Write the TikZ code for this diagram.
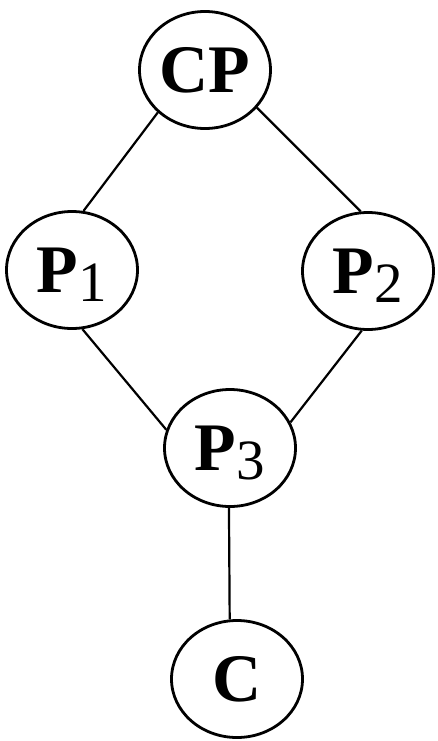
\documentclass[tikz,border=0pt]{standalone}
\usepackage{fontspec}
\setmainfont{Liberation Serif}
\usetikzlibrary{shapes.geometric}
\newcommand{\sbs}[1]{\raisebox{-9pt}{\fontsize{57}{57}\selectfont\mdseries #1}}
\tikzset{
  pnode/.style={ellipse, draw, line width=2.8pt, minimum width=131pt, minimum height=117pt,
    inner sep=0pt, font=\fontsize{68}{68}\selectfont\bfseries, text depth=0pt},
  link/.style={line width=2.2pt}
}
\begin{document}
\begin{tikzpicture}[x=1pt,y=-1pt]
\useasboundingbox (0,0) rectangle (437,741);
\node[pnode] (cp) at (205,70) {CP};
\node[pnode] (p1) at (72,270) {P\sbs{1}};
\node[pnode] (p2) at (368,271) {P\sbs{2}};
\node[pnode] (p3) at (230,448) {P\sbs{3}};
\node[pnode] (c) at (237,679) {C};
\draw[link] (cp.222.5) -- (p1.79.6);
\draw[link] (cp.324.6) -- (p2.97.6);
\draw[link] (p1.280.4) -- (p3.164);
\draw[link] (p2.264.3) -- (p3.23);
\draw[link] (p3.269) -- (c.97.5);
\end{tikzpicture}
\end{document}
